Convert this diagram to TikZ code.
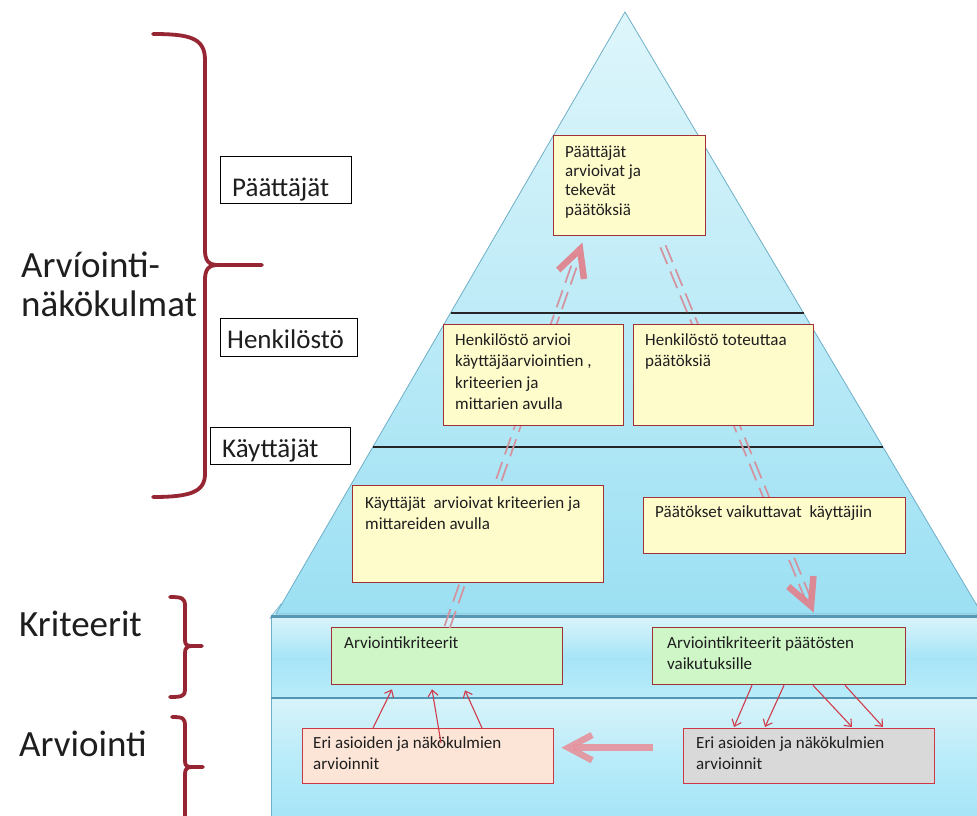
\documentclass[tikz,border=0pt]{standalone}
\usepackage{fontspec}
\setmainfont{Carlito}
\usetikzlibrary{calc,arrows.meta}
\definecolor{pyrtop}{RGB}{222,246,251}
\definecolor{pyrbot}{RGB}{156,224,243}
\definecolor{pyredge}{RGB}{110,175,200}
\definecolor{bandA}{RGB}{216,243,250}
\definecolor{bandB}{RGB}{166,229,247}
\definecolor{bandC}{RGB}{186,236,249}
\definecolor{tealline}{RGB}{84,150,180}
\definecolor{ybg}{RGB}{255,252,204}
\definecolor{ybord}{RGB}{160,50,55}
\definecolor{gbg}{RGB}{206,246,198}
\definecolor{pbg}{RGB}{252,228,214}
\definecolor{rbord}{RGB}{205,55,70}
\definecolor{gybg}{RGB}{217,217,217}
\definecolor{dcol}{RGB}{212,146,158}
\definecolor{chevcol}{RGB}{226,128,138}
\definecolor{thincol}{RGB}{208,60,75}
\definecolor{bracecol}{RGB}{150,38,52}
\definecolor{txtcol}{RGB}{30,30,30}
\newcommand\bx[6]{\node[#6, anchor=north west, inner sep=0pt, minimum width={(#4-#2)*1pt}, minimum height={(#5-#3)*1pt}] (#1) at (#2,#3) {};}
\newcommand\dline[2]{%
  \draw[dl] ($(#1)!2.8pt!90:(#2)$) -- ($(#2)!2.8pt!-90:(#1)$);
  \draw[dl] ($(#1)!2.8pt!-90:(#2)$) -- ($(#2)!2.8pt!90:(#1)$);}
\begin{document}
\begin{tikzpicture}[x=1pt,y=-1pt,
  ybox/.style={draw=ybord, line width=1.3pt, fill=ybg},
  gbox/.style={draw=ybord, line width=1.3pt, fill=gbg},
  pbox/.style={draw=rbord, line width=1.3pt, fill=pbg},
  gybox/.style={draw=rbord, line width=1.3pt, fill=gybg},
  lbox/.style={draw=black, line width=0.8pt, fill=white},
  txt/.style={inner sep=0pt, anchor=north west, align=left, text=txtcol, font=\fontsize{17}{21.5}\selectfont},
  ltxt/.style={inner sep=0pt, anchor=base west, text=txtcol, font=\fontsize{27}{31}\selectfont},
  btxt/.style={inner sep=0pt, anchor=north west, align=left, text=txtcol, font=\fontsize{37}{39}\selectfont},
  dl/.style={draw=dcol, line width=1.7pt, dash pattern=on 18pt off 8pt},
  chev/.style={draw=chevcol, line width=6.5pt, opacity=0.9, line join=miter},
  thin/.style={draw=thincol, line width=1.1pt, -{Straight Barb[length=6pt,width=10pt]}},
  brace/.style={draw=bracecol, line width=3.8pt, line cap=round, line join=round}]
\useasboundingbox (0,0) rectangle (977,816);
\clip (0,0) rectangle (977,816);
\fill[white] (0,0) rectangle (977,816);
% bottom 3D box
\fill[fill=bandA!70!bandB, draw=pyredge, line width=0.6pt] (270,618) -- (281,604) -- (977,604) -- (977,618) -- cycle;
\shade[top color=bandA, bottom color=bandC, middle color=bandB] (271,618) rectangle (977,698);
\shade[top color=bandA, bottom color=bandB, middle color=bandC] (271,698) rectangle (977,816);
\draw[pyredge, line width=0.8pt] (271,618) -- (271,816);
% pyramid
\shade[top color=pyrtop, bottom color=pyrbot, draw=pyredge, line width=0.8pt] (625,12) -- (276,614) -- (982,614) -- cycle;
\draw[tealline, line width=3pt] (271,616.5) -- (977,616.5);
\draw[tealline, line width=2.5pt] (271,698) -- (977,698);
\draw[black!85, line width=1.3pt] (450.5,313) -- (803.5,313);
\draw[black!85, line width=1.3pt] (372.8,447) -- (883,447);
% boxes
\bx{g1}{331}{627}{562}{684}{gbox}
\bx{g2}{652}{627}{905}{684}{gbox}
\bx{p1}{553}{135}{705}{235}{ybox}
% double dashed arrows (behind boxes)
\coordinate (ua) at (g1.north);
\coordinate (ut) at ($(p1.south west)+(27,13)$);
\coordinate (ue) at ($(ut)!7pt!(ua)$);
\coordinate (ds) at ($(p1.south west)+(110,10)$);
\coordinate (dt) at (811,606);
\coordinate (de) at ($(dt)!7pt!(ds)$);
\dline{ua}{ue}
\dline{ds}{de}
\bx{h1}{443}{324}{623}{425}{ybox}
\bx{h2}{633}{324}{813}{425}{ybox}
\bx{k1}{352}{485}{603}{582}{ybox}
\bx{k2}{643}{497}{905}{553}{ybox}
\bx{e1}{302}{728}{553}{783}{pbox}
\bx{e2}{683}{728}{934}{783}{gybox}
% texts
\node[txt, font=\fontsize{17}{19.3}\selectfont] (p1t) at ($(p1.north west)+(12,8.5)$) {\strut Päättäjät\\arvioivat ja\\tekevät\\päätöksiä};
\node[txt] (h1t) at ($(h1.north west)+(12,6)$) {\strut Henkilöstö arvioi\\käyttäjäarviointien ,\\kriteerien ja\\mittarien avulla};
\node[txt] (h2t) at ($(h2.north west)+(12,6)$) {\strut Henkilöstö toteuttaa\\päätöksiä};
\node[txt] (k1t) at ($(k1.north west)+(13,8)$) {\strut Käyttäjät~ arvioivat kriteerien ja\\mittareiden avulla};
\node[txt] (k2t) at ($(k2.north west)+(12,5)$) {\strut Päätökset vaikuttavat~ käyttäjiin};
\node[txt] (g1t) at ($(g1.north west)+(13,6)$) {\strut Arviointikriteerit};
\node[txt] (g2t) at ($(g2.north west)+(15,6)$) {\strut Arviointikriteerit päätösten\\vaikutuksille};
\node[txt] (e1t) at ($(e1.north west)+(11,5)$) {\strut Eri asioiden ja näkökulmien\\arvioinnit};
\node[txt] (e2t) at ($(e2.north west)+(13,5)$) {\strut Eri asioiden ja näkökulmien\\arvioinnit};
% chevron heads
\draw[chev] ($(ut)!30pt!27:(ua)$) -- (ut) -- ($(ut)!30pt!-27:(ua)$);
\draw[chev] ($(dt)!30pt!27:(ds)$) -- (dt) -- ($(dt)!30pt!-27:(ds)$);
% big horizontal arrow
\coordinate (hs) at ($(e2.west)+(-30,-8.5)$);
\coordinate (ht) at ($(e1.east)+(14,-8.5)$);
\draw[draw=chevcol!85!white, line width=7.5pt, opacity=0.9] (hs) -- ($(ht)!5pt!(hs)$);
\draw[chev, draw=chevcol!85!white] ($(ht)!27pt!28:(hs)$) -- (ht) -- ($(ht)!27pt!-28:(hs)$);
% thin arrows
\draw[thin] ($(e1.north west)+(71,0)$) -- ($(g1.south west)+(61,4)$);
\draw[thin] ($(e1.north west)+(139,15)$) -- ($(g1.south west)+(101,4)$);
\draw[thin] ($(e1.north west)+(180,0)$) -- ($(g1.south west)+(134,5)$);
\draw[thin] ($(g2.south west)+(100,0)$) -- ($(e2.north west)+(51,-1)$);
\draw[thin] ($(g2.south west)+(132,0)$) -- ($(e2.north west)+(82,-1)$);
\draw[thin] ($(g2.south west)+(161,0)$) -- ($(e2.north west)+(169,-1)$);
\draw[thin] ($(g2.south west)+(193,0)$) -- ($(e2.north west)+(200,-1)$);
% left labels
\bx{lp}{220}{156}{351}{203}{lbox}
\bx{lh}{220}{318}{357}{356}{lbox}
\bx{lk}{210}{427}{350}{464}{lbox}
\node[ltxt] (lpt) at (232,196) {Päättäjät};
\node[ltxt] (lht) at (227,348) {Henkilöstö};
\node[ltxt] (lkt) at (222,457) {Käyttäjät};
\node[btxt] (an) at (21,250) {\strut Arvíointi-\\näkökulmat};
\node[btxt, anchor=base west] (kr) at (19,636) {Kriteerit};
\node[btxt, anchor=base west] (ar) at (19,756) {Arviointi};
% braces
\draw[brace] (153,34) .. controls (190,34) and (205,38) .. (205,60) -- (205,250) .. controls (205,260) and (208,265) .. (218,265) -- (262,265);
\draw[brace] (218,265) .. controls (208,265) and (205,270) .. (205,280) -- (205,474) .. controls (205,492) and (190,497) .. (153,497);
\draw[brace] (170,597) .. controls (182,597) and (185,598) .. (185,606) -- (185,640) .. controls (185,645) and (187,646) .. (192,646) -- (202,646);
\draw[brace] (192,646) .. controls (187,646) and (185,648) .. (185,653) -- (185,690) .. controls (185,696) and (182,697) .. (170,697);
\draw[brace] (172,717) .. controls (183,717) and (185,718) .. (185,726) -- (185,761) .. controls (185,766) and (187,767) .. (192,767) -- (203,767);
\draw[brace] (192,767) .. controls (187,767) and (185,769) .. (185,774) -- (185,830);
\end{tikzpicture}
\end{document}
